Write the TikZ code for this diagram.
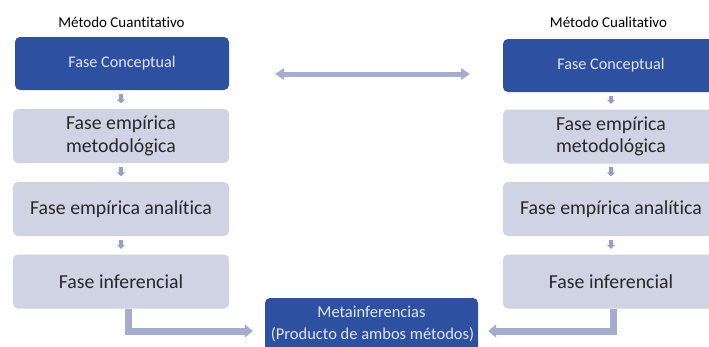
\documentclass[tikz,border=0pt]{standalone}
\usepackage{fontspec}
\setmainfont{Carlito}[Ligatures=CommonOff]
\usetikzlibrary{arrows.meta}
\definecolor{darkbox}{RGB}{46,80,160}
\definecolor{lightbox}{RGB}{207,211,228}
\definecolor{arrowc}{RGB}{164,173,208}
\definecolor{smallarrow}{RGB}{150,159,198}
\definecolor{darktext}{RGB}{40,40,40}
\definecolor{lighttext}{RGB}{225,229,240}
\tikzset{
  conceptbox/.style={rectangle, rounded corners=5pt, fill=darkbox, text=lighttext,
    minimum width=214pt, minimum height=53pt, inner sep=0pt,
    font=\fontsize{16.2}{19}\selectfont},
  phasebox/.style={rectangle, rounded corners=5pt, fill=lightbox, text=darktext,
    minimum width=216pt, minimum height=54pt, inner sep=0pt, align=center,
    font=\fontsize{19.8}{22.5}\selectfont},
  metabox/.style={rectangle, rounded corners=5pt, fill=darkbox, text=lighttext,
    minimum width=213pt, minimum height=66pt, inner sep=0pt},
  titletext/.style={font=\fontsize{15}{18}\selectfont, text=black, anchor=base},
  smallarr/.style={draw=smallarrow, line width=4.5pt, shorten <=3.5pt, shorten >=5.5pt,
    -{Triangle[width=8pt,length=4pt]}},
  bigarr/.style={draw=arrowc, line width=7pt, -{Triangle[width=13pt,length=8pt]}},
  dblarr/.style={draw=arrowc, line width=5pt,
    {Triangle[width=11pt,length=9pt]}-{Triangle[width=11pt,length=9pt]}}
}
\begin{document}
\begin{tikzpicture}[x=1pt,y=-1pt]
\useasboundingbox (0,0) rectangle (709,346);
\clip (0,0) rectangle (709,346);
\fill[white] (0,0) rectangle (709,346);

% titles
\node[titletext] (tl) at (121.5,27) {Método Cuantitativo};
\node[titletext] (tr) at (608.5,27) {Método Cualitativo};

% left column
\node[conceptbox] (fcl) at (122,63.5) {Fase Conceptual};
\node[phasebox] (feml) at (121,136) {Fase empírica\\metodológica};
\node[phasebox] (feal) at (121,209) {Fase empírica analítica};
\node[phasebox] (fil) at (121,281.5) {Fase inferencial};

% right column
\node[conceptbox, minimum width=216pt] (fcr) at (611,65.5) {Fase Conceptual};
\node[phasebox] (femr) at (611,136.5) {Fase empírica\\metodológica};
\node[phasebox] (fear) at (611,209) {Fase empírica analítica};
\node[phasebox] (fir) at (611,281.5) {Fase inferencial};

% meta box
\node[metabox] (meta) at (371.5,331) {};
\node[text=lighttext, font=\fontsize{16.5}{22}\selectfont, anchor=base] (m1) at (371.5,317) {Metainferencias};
\node[text=lighttext, font=\fontsize{16.5}{22}\selectfont, anchor=base] (m2) at (372.5,339) {(Producto de ambos métodos)};

% small arrows
\draw[smallarr] (fcl.south -| feml.south) -- (feml.north);
\draw[smallarr] (feml.south) -- (feal.north);
\draw[smallarr] (feal.south) -- (fil.north);
\draw[smallarr] (fcr.south) -- (femr.north);
\draw[smallarr] (femr.south) -- (fear.north);
\draw[smallarr] (fear.south) -- (fir.north);

% double arrow between concept phases
\coordinate (dl) at (275,74);
\coordinate (dr) at (470,74);
\draw[dblarr] (dl) -- (dr);

% elbow arrows to meta
\draw[bigarr, shorten >=12pt] ([xshift=7pt]fil.south) |- (meta.west);
\draw[bigarr, shorten >=10pt] ([xshift=2pt]fir.south) |- (meta.east);
\end{tikzpicture}
\end{document}
